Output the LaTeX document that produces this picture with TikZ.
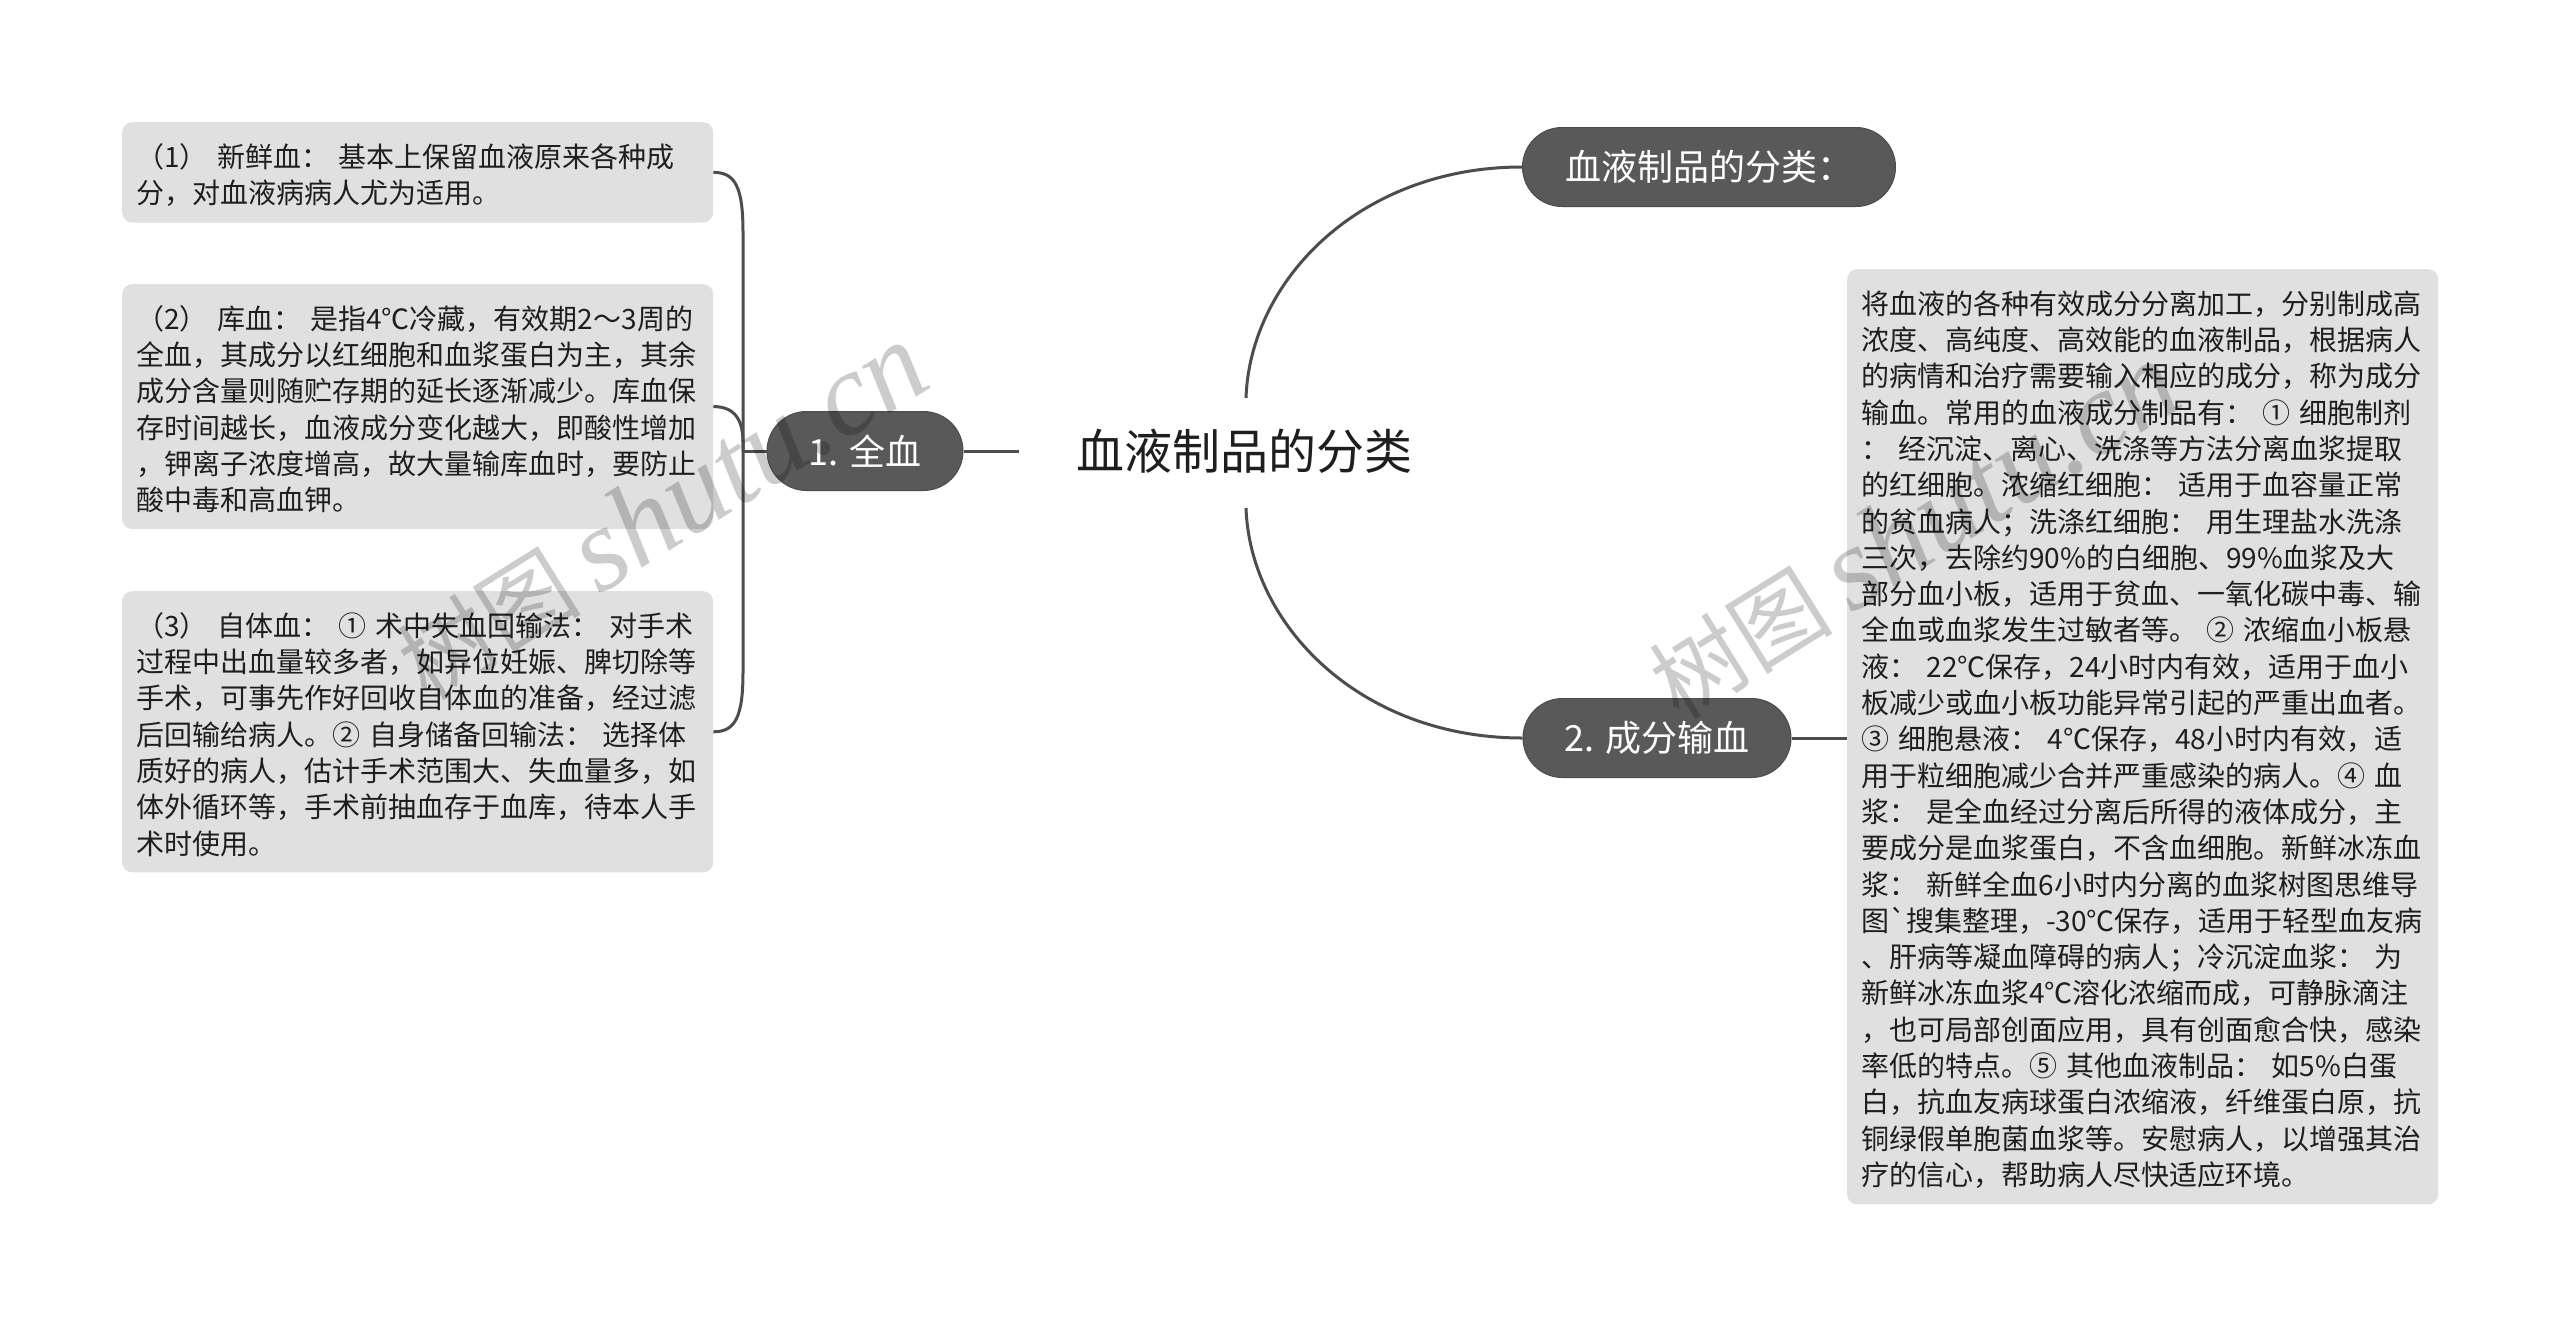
\documentclass[tikz,border=0pt]{standalone}
\usepackage{fontspec}
\setmainfont{Noto Sans CJK SC}
\newfontfamily\cjkplain{Noto Sans CJK SC}
\newfontfamily\wmlatin{Liberation Serif}
\usetikzlibrary{calc}
\definecolor{nodegray}{HTML}{595959}
\definecolor{boxgray}{HTML}{E0E0E0}
\definecolor{linegray}{HTML}{4D4D4D}
\definecolor{txt}{HTML}{1E1E1E}
\begin{document}
\begin{tikzpicture}[x=1pt,y=-1pt,
  pill/.style={draw=nodegray!85!black, line width=1pt, fill=nodegray, text=white,
    rounded corners=39.5pt, minimum height=79pt, inner sep=0pt,
    font=\fontsize{36}{40}\selectfont},
  leaf/.style={fill=boxgray, rounded corners=10pt, text width=563pt, inner xsep=14pt,
    inner ysep=16pt, align=left, text=txt, anchor=north west,
    font=\fontsize{28}{36.3}\selectfont, execute at begin node={\rule{0pt}{29pt}}},
  conn/.style={draw=linegray, line width=3pt},
  wm/.style={text=black, opacity=0.2, rotate=32, inner sep=0pt}
]
\useasboundingbox (0,0) rectangle (2560,1326);
\fill[white] (0,0) rectangle (2560,1326);

% left leaves
\node[leaf] (b1) at (122,122) {\mbox{（1） 新鲜血： 基本上保留血液原来各种成}\\
\mbox{分，对血液病病人尤为适用。}};
\node[leaf] (b2) at (122,284) {\mbox{（2） 库血： 是指4℃冷藏，有效期2～3周的}\\
\mbox{全血，其成分以红细胞和血浆蛋白为主，其余}\\
\mbox{成分含量则随贮存期的延长逐渐减少。库血保}\\
\mbox{存时间越长，血液成分变化越大，即酸性增加}\\
\mbox{，钾离子浓度增高，故大量输库血时，要防止}\\
\mbox{酸中毒和高血钾。}};
\node[leaf] (b3) at (122,591) {\mbox{（3） 自体血： ① 术中失血回输法： 对手术}\\
\mbox{过程中出血量较多者，如异位妊娠、脾切除等}\\
\mbox{手术，可事先作好回收自体血的准备，经过滤}\\
\mbox{后回输给病人。② 自身储备回输法： 选择体}\\
\mbox{质好的病人，估计手术范围大、失血量多，如}\\
\mbox{体外循环等，手术前抽血存于血库，待本人手}\\
\mbox{术时使用。}};

% right leaf
\node[leaf] (rb) at (1847,269) {\mbox{将血液的各种有效成分分离加工，分别制成高}\\
\mbox{浓度、高纯度、高效能的血液制品，根据病人}\\
\mbox{的病情和治疗需要输入相应的成分，称为成分}\\
\mbox{输血。常用的血液成分制品有： ① 细胞制剂}\\
\mbox{： 经沉淀、离心、洗涤等方法分离血浆提取}\\
\mbox{的红细胞。浓缩红细胞： 适用于血容量正常}\\
\mbox{的贫血病人；洗涤红细胞： 用生理盐水洗涤}\\
\mbox{三次，去除约90\%的白细胞、99\%血浆及大}\\
\mbox{部分血小板，适用于贫血、一氧化碳中毒、输}\\
\mbox{全血或血浆发生过敏者等。 ② 浓缩血小板悬}\\
\mbox{液： 22℃保存，24小时内有效，适用于血小}\\
\mbox{板减少或血小板功能异常引起的严重出血者。}\\
\mbox{③ 细胞悬液： 4℃保存，48小时内有效，适}\\
\mbox{用于粒细胞减少合并严重感染的病人。④ 血}\\
\mbox{浆： 是全血经过分离后所得的液体成分，主}\\
\mbox{要成分是血浆蛋白，不含血细胞。新鲜冰冻血}\\
\mbox{浆： 新鲜全血6小时内分离的血浆树图思维导}\\
\mbox{图{\cjkplain `}搜集整理，-30℃保存，适用于轻型血友病}\\
\mbox{、肝病等凝血障碍的病人；冷沉淀血浆： 为}\\
\mbox{新鲜冰冻血浆4℃溶化浓缩而成，可静脉滴注}\\
\mbox{，也可局部创面应用，具有创面愈合快，感染}\\
\mbox{率低的特点。⑤ 其他血液制品： 如5\%白蛋}\\
\mbox{白，抗血友病球蛋白浓缩液，纤维蛋白原，抗}\\
\mbox{铜绿假单胞菌血浆等。安慰病人，以增强其治}\\
\mbox{疗的信心，帮助病人尽快适应环境。}};

% main nodes
\node[inner sep=0pt, text=txt, font=\fontsize{48}{52}\selectfont] (root) at (1244,451) {血液制品的分类};
\node[pill, minimum width=196pt] (n1) at (865,451) {1. 全血};
\node[pill, minimum width=373pt] (top) at (1709,167) {血液制品的分类：};
\node[pill, minimum width=268pt] (n2) at (1657,738) {2. 成分输血};

\coordinate (rt) at (1246,398);
\coordinate (rbot) at (1246,508);
\coordinate (jn) at (743,451);

% connectors
\draw[conn] (n1.east) -- ([xshift=-57pt]root.west);
\draw[conn] (rt) .. controls (1250,280) and (1360,167) .. (top.west);
\draw[conn] (rbot) .. controls (1250,625) and (1360,738) .. (n2.west);
\draw[conn] (n2.east) -- (n2.east -| rb.west);
\draw[conn] (n1.west) -- (jn);
\draw[conn] (b1.east) .. controls +(22,0) and +(0,-45) .. ($(jn|-b1.east)+(0,60)$) -- (jn);
\draw[conn] (b2.east) .. controls +(22,0) and +(0,-22) .. ($(jn|-b2.east)+(0,36)$) -- (jn);
\draw[conn] (b3.east) .. controls +(22,0) and +(0,45) .. ($(jn|-b3.east)+(0,-60)$) -- (jn);

% watermarks
\node[wm] (wm1) at (662,512) {\fontsize{92}{100}\selectfont 树图\hspace{0.2em}{\wmlatin\itshape\fontsize{118}{120}\selectfont shutu.cn}};
\node[wm] (wm2) at (1914,531) {\fontsize{92}{100}\selectfont 树图\hspace{0.2em}{\wmlatin\itshape\fontsize{118}{120}\selectfont shutu.cn}};
\end{tikzpicture}
\end{document}
